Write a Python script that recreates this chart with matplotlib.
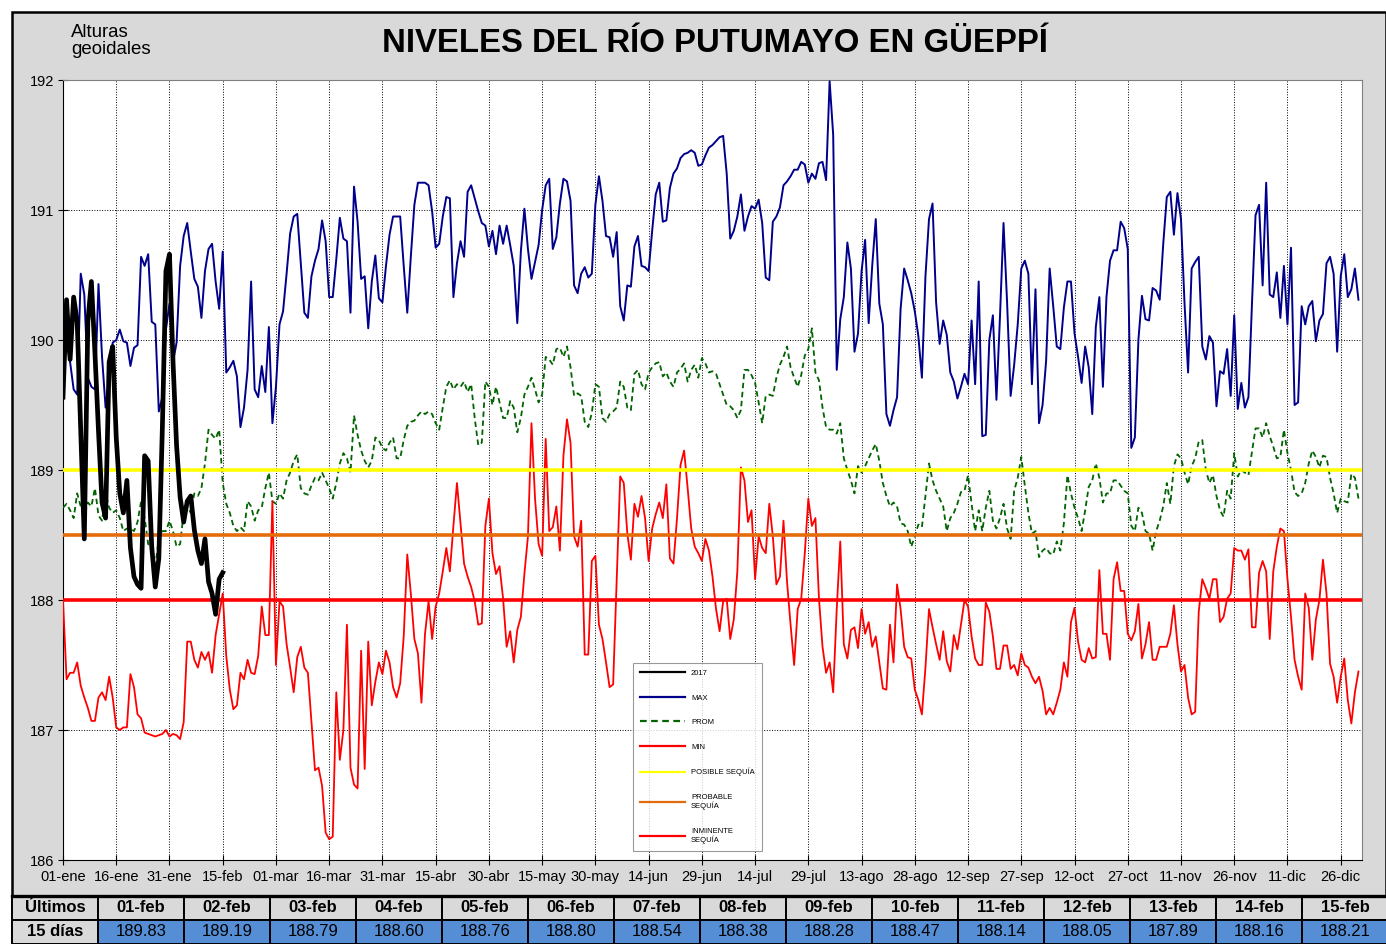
import numpy as np
import matplotlib.pyplot as plt
from matplotlib.patches import Rectangle

plt.rcParams['font.family'] = ['Liberation Sans', 'DejaVu Sans']

# etiquetas del eje x (cada 15 dias, año bisiesto de 366 dias)
x_labels = ['01-ene', '16-ene', '31-ene', '15-feb', '01-mar', '16-mar', '31-mar',
            '15-abr', '30-abr', '15-may', '30-may', '14-jun', '29-jun', '14-jul',
            '29-jul', '13-ago', '28-ago', '12-sep', '27-sep', '12-oct', '27-oct',
            '11-nov', '26-nov', '11-dic', '26-dic']

# ultimos 15 dias (tabla inferior)
ultimos_fechas = ['01-feb', '02-feb', '03-feb', '04-feb', '05-feb', '06-feb', '07-feb', '08-feb',
                  '09-feb', '10-feb', '11-feb', '12-feb', '13-feb', '14-feb', '15-feb']
ultimos_valores = [189.83, 189.19, 188.79, 188.60, 188.76, 188.80, 188.54, 188.38,
                   188.28, 188.47, 188.14, 188.05, 187.89, 188.16, 188.21]

# 2017, enero (el resto son los valores de la tabla)
nivel_2017_enero = [189.56, 190.31, 189.85, 190.33, 190.14, 189.30, 188.47, 190.14, 190.45, 189.90,
                    189.30, 188.75, 188.63, 189.83, 189.95, 189.25, 188.82, 188.67, 188.92, 188.40,
                    188.18, 188.12, 188.09, 189.11, 189.07, 188.41, 188.10, 188.32, 189.33, 190.53,
                    190.66]

max_nivel = [
    189.80, 189.98, 189.83, 189.62, 189.58, 190.51, 190.35, 189.71, 189.64, 189.62,
    190.43, 189.87, 189.48, 189.71, 189.98, 190.00, 190.08, 189.99, 189.98, 189.80,
    189.94, 189.96, 190.64, 190.57, 190.66, 190.14, 190.12, 189.45, 189.56, 190.08,
    190.28, 189.83, 189.98, 190.57, 190.80, 190.90, 190.68, 190.47, 190.41, 190.17,
    190.53, 190.70, 190.74, 190.45, 190.24, 190.68, 189.75, 189.79, 189.84, 189.72,
    189.33, 189.48, 189.77, 190.45, 189.62, 189.56, 189.80, 189.60, 190.10, 189.36,
    189.64, 190.12, 190.22, 190.51, 190.82, 190.95, 190.97, 190.59, 190.21, 190.17,
    190.49, 190.61, 190.70, 190.92, 190.76, 190.33, 190.33, 190.62, 190.94, 190.78,
    190.76, 190.21, 191.18, 190.91, 190.47, 190.49, 190.09, 190.45, 190.65, 190.32,
    190.29, 190.57, 190.81, 190.95, 190.95, 190.95, 190.57, 190.21, 190.64, 191.04,
    191.21, 191.21, 191.21, 191.19, 190.99, 190.71, 190.74, 190.95, 191.10, 191.09,
    190.33, 190.59, 190.76, 190.64, 191.14, 191.19, 191.09, 190.99, 190.90, 190.88,
    190.72, 190.84,
    190.66, 190.88, 190.74, 190.88, 190.73, 190.57, 190.13, 190.68, 191.01, 190.70,
    190.47, 190.60, 190.73, 191.00, 191.19, 191.24, 190.70, 190.79, 191.05, 191.24,
    191.22, 191.07, 190.42, 190.36, 190.51, 190.56, 190.48, 190.51, 191.04, 191.26,
    191.07, 190.80, 190.79, 190.64, 190.83, 190.26, 190.15, 190.42, 190.41, 190.72,
    190.80, 190.57, 190.56, 190.53, 190.84, 191.12, 191.21, 190.91, 190.92, 191.17,
    191.28, 191.32, 191.40, 191.43, 191.44, 191.46, 191.44, 191.34, 191.35, 191.42,
    191.48,
    191.50, 191.53, 191.56, 191.57, 191.28, 190.78, 190.84, 190.95, 191.12, 190.84,
    190.95, 191.03, 191.01, 191.08, 190.90, 190.48, 190.46, 190.91, 190.95, 191.02,
    191.19, 191.22, 191.26, 191.31, 191.31, 191.37, 191.35, 191.21, 191.28, 191.24,
    191.36, 191.37, 191.23, 191.99, 191.58, 189.77, 190.16, 190.33, 190.75, 190.55,
    189.91, 190.05, 190.53, 190.77, 190.13, 190.57, 190.93, 190.28, 190.12, 189.43,
    189.34, 189.46, 189.56, 190.24, 190.55, 190.46, 190.36, 190.22, 190.03, 189.71,
    190.49, 190.93,
    191.05, 190.29, 189.97, 190.15, 190.04, 189.75, 189.68, 189.55, 189.64, 189.74,
    189.66, 190.15, 189.66, 190.45, 189.26, 189.27, 190.00, 190.19, 189.54, 190.18,
    190.90, 190.29, 189.57, 189.81, 190.12, 190.55, 190.61, 190.51, 189.66, 190.39,
    189.36, 189.50, 189.84, 190.55, 190.26, 189.95, 189.93, 190.25, 190.45, 190.45,
    190.05, 189.87, 189.67, 189.95, 189.79, 189.43, 190.10, 190.33, 189.64, 190.33,
    190.61, 190.69, 190.69, 190.91, 190.86, 190.70, 189.17, 189.25, 190.00, 190.34,
    190.16,
    190.15, 190.40, 190.38, 190.31, 190.74, 191.10, 191.14, 190.81, 191.13, 190.93,
    190.28, 189.75, 190.55, 190.60, 190.64, 189.95, 189.85, 190.03, 189.98, 189.49,
    189.76, 189.74, 189.93, 189.57, 190.19, 189.47, 189.67, 189.48, 189.56, 190.28,
    190.96, 191.04, 190.42, 191.21, 190.35, 190.33, 190.52, 190.17, 190.57, 190.12,
    190.71, 189.50, 189.52, 190.26, 190.12, 190.26, 190.30, 189.99, 190.15, 190.20,
    190.59, 190.64, 190.51, 189.91, 190.49, 190.66, 190.33, 190.39, 190.55, 190.31,
]

prom_nivel = [
    188.71, 188.74, 188.69, 188.63, 188.82, 188.72, 188.65, 188.75, 188.72, 188.86,
    188.65, 188.61, 188.82, 188.71, 188.67, 188.69, 188.63, 188.53, 188.55, 188.55,
    188.53, 188.60, 188.76, 188.63, 188.43, 188.40, 188.26, 188.47, 188.53, 188.53,
    188.61, 188.53, 188.41, 188.43, 188.67, 188.72, 188.67, 188.82, 188.80, 188.86,
    189.05, 189.31, 189.27, 189.24, 189.31, 188.90, 188.74, 188.67, 188.57, 188.53,
    188.56, 188.53, 188.76, 188.72, 188.61, 188.69, 188.71, 188.86, 188.98, 188.76,
    188.74, 188.82, 188.78, 188.92, 188.98, 189.07, 189.12, 188.86, 188.82, 188.81,
    188.88, 188.94, 188.92, 188.98, 188.92, 188.86, 188.78, 188.90, 189.05, 189.13,
    189.09, 188.98, 189.42, 189.27, 189.15, 189.07, 189.02, 189.07, 189.25, 189.23,
    189.17, 189.15, 189.21, 189.25, 189.09, 189.09, 189.23, 189.34, 189.37, 189.38,
    189.42, 189.45, 189.43, 189.45, 189.43, 189.36, 189.31, 189.48, 189.64, 189.69,
    189.62, 189.66, 189.64, 189.68, 189.60, 189.66, 189.40, 189.19, 189.21, 189.68,
    189.64, 189.50,
    189.64, 189.52, 189.40, 189.40, 189.53, 189.48, 189.29, 189.40, 189.58, 189.64,
    189.71, 189.62, 189.52, 189.58, 189.87, 189.85, 189.81, 189.93, 189.94, 189.87,
    189.95, 189.79, 189.57, 189.59, 189.57, 189.37, 189.33, 189.44, 189.66, 189.64,
    189.40, 189.37, 189.43, 189.45, 189.48, 189.68, 189.64, 189.48, 189.46, 189.74,
    189.77, 189.66, 189.62, 189.75, 189.79, 189.82, 189.83, 189.72, 189.75, 189.68,
    189.64, 189.75, 189.78, 189.82, 189.68, 189.77, 189.81, 189.71, 189.86, 189.82,
    189.75,
    189.76, 189.74, 189.66, 189.58, 189.50, 189.49, 189.46, 189.40, 189.46, 189.77,
    189.77, 189.73, 189.67, 189.52, 189.36, 189.57, 189.58, 189.57, 189.71, 189.81,
    189.87, 189.95, 189.79, 189.71, 189.64, 189.73, 189.88, 189.93, 190.09, 189.75,
    189.69, 189.48, 189.33, 189.31, 189.31, 189.28, 189.36, 189.09, 189.00, 188.92,
    188.82, 189.03, 188.98, 189.03, 189.09, 189.15, 189.20, 189.07, 188.90, 188.80,
    188.72, 188.75, 188.72, 188.59, 188.58, 188.53, 188.41, 188.49, 188.58, 188.56,
    188.80, 189.05,
    188.92, 188.84, 188.78, 188.72, 188.53, 188.63, 188.67, 188.74, 188.83, 188.84,
    188.96, 188.74, 188.53, 188.69, 188.53, 188.71, 188.84, 188.61, 188.55, 188.63,
    188.74, 188.55, 188.47, 188.84, 188.94, 189.10, 188.88, 188.67, 188.51, 188.53,
    188.33, 188.38, 188.40, 188.36, 188.35, 188.45, 188.38, 188.59, 188.96, 188.82,
    188.71, 188.63, 188.53, 188.69, 188.87, 188.92, 189.05, 188.94, 188.75, 188.82,
    188.82, 188.92, 188.92, 188.88, 188.84, 188.82, 188.57, 188.53, 188.71, 188.67,
    188.53,
    188.51, 188.38, 188.53, 188.61, 188.72, 188.90, 188.74, 189.03, 189.12, 189.09,
    188.98, 188.89, 189.03, 189.09, 189.22, 189.23, 189.00, 188.90, 188.96, 188.80,
    188.69, 188.64, 188.84, 188.78, 189.13, 188.95, 189.00, 188.98, 188.96, 189.14,
    189.32, 189.32, 189.25, 189.36, 189.26, 189.18, 189.09, 189.10, 189.31, 189.13,
    189.00, 188.83, 188.80, 188.82, 188.90, 189.05, 189.15, 189.10, 189.02, 189.11,
    189.10, 188.94, 188.82, 188.67, 188.78, 188.76, 188.75, 188.97, 188.94, 188.78,
]

min_nivel = [
    188.00, 187.39, 187.44, 187.44, 187.52, 187.34, 187.25, 187.17, 187.07, 187.07,
    187.25, 187.29, 187.23, 187.41, 187.25, 187.02, 187.00, 187.02, 187.02, 187.43,
    187.33, 187.12, 187.09, 186.98, 186.97, 186.96, 186.95, 186.96, 186.97, 187.00,
    186.95, 186.97, 186.96, 186.93, 187.06, 187.68, 187.68, 187.54, 187.48, 187.60,
    187.54, 187.60, 187.44, 187.73, 187.89, 188.05, 187.57, 187.31, 187.16, 187.19,
    187.44, 187.39, 187.54, 187.44, 187.43, 187.57, 187.95, 187.73, 187.73, 188.76,
    187.50,
    187.99, 187.95, 187.66, 187.48, 187.29, 187.56, 187.64, 187.48, 187.44, 187.07,
    186.69, 186.71, 186.57, 186.21, 186.16, 186.18, 187.29, 186.77, 187.00, 187.81,
    186.71, 186.58, 186.55, 187.61, 186.70, 187.68, 187.19, 187.37, 187.52, 187.43,
    187.61, 187.52, 187.33, 187.25, 187.36, 187.72, 188.35, 188.05, 187.70, 187.59,
    187.21, 187.74, 187.99, 187.70, 187.95, 188.05, 188.22, 188.40, 188.22, 188.57,
    188.90, 188.59, 188.28, 188.18, 188.10, 187.99, 187.81, 187.82, 188.57, 188.78,
    188.36,
    188.20, 188.26, 188.01, 187.64, 187.76, 187.52, 187.77, 187.87, 188.20, 188.49,
    189.36, 188.78, 188.43, 188.34, 189.24, 188.53, 188.56, 188.72, 188.38, 189.11,
    189.39, 189.21, 188.49, 188.41, 188.61, 187.58, 187.58, 188.30, 188.34, 187.81,
    187.70, 187.52, 187.33, 187.35, 188.16, 188.95, 188.90, 188.51, 188.31, 188.74,
    188.64, 188.80, 188.63, 188.30, 188.55, 188.66, 188.75, 188.63, 188.89, 188.32,
    188.28, 188.63, 189.04, 189.15, 188.86, 188.55, 188.41, 188.36, 188.30, 188.47,
    188.38, 188.18,
    187.93, 187.76, 187.99, 188.01, 187.70, 187.85, 188.22, 189.02, 188.92, 188.60,
    188.69, 188.16, 188.49, 188.40, 188.36, 188.74, 188.49, 188.12, 188.18, 188.61,
    188.14, 187.81, 187.50, 187.93, 188.01, 188.36, 188.78, 188.57, 188.63, 188.01,
    187.64, 187.44, 187.52, 187.29, 187.93, 188.45, 187.66, 187.55, 187.77, 187.79,
    187.63, 187.93, 187.74, 187.83, 187.64, 187.72, 187.52, 187.32, 187.31, 187.81,
    187.52, 188.12, 187.93, 187.64, 187.56, 187.55, 187.31, 187.23, 187.12, 187.48,
    187.93,
    187.79, 187.66, 187.54, 187.76, 187.53, 187.45, 187.73, 187.62, 187.81, 188.00,
    187.95, 187.72, 187.55, 187.50, 187.50, 187.98, 187.91, 187.72, 187.47, 187.47,
    187.65, 187.65, 187.47, 187.50, 187.42, 187.59, 187.50, 187.48, 187.41, 187.36,
    187.41, 187.30, 187.12, 187.17, 187.12, 187.21, 187.31, 187.52, 187.41, 187.83,
    187.94, 187.68, 187.54, 187.52, 187.63, 187.55, 187.56, 188.23, 187.74, 187.74,
    187.54, 188.16, 188.29, 188.07, 188.07, 187.74, 187.69, 187.76, 187.97, 187.55,
    187.66,
    187.83, 187.54, 187.54, 187.64, 187.64, 187.64, 187.74, 187.96, 187.66, 187.45,
    187.50, 187.25, 187.12, 187.14, 187.91, 188.16, 188.09, 188.01, 188.16, 188.16,
    187.83, 187.87, 188.01, 188.05, 188.40, 188.38, 188.38, 188.31, 188.39, 187.79,
    187.79, 188.21, 188.30, 188.22, 187.70, 188.22, 188.41, 188.55, 188.53, 188.16,
    187.87, 187.54, 187.41, 187.31, 188.05, 187.94, 187.54, 187.85, 188.00, 188.31,
    188.05, 187.51, 187.41, 187.21, 187.41, 187.55, 187.23, 187.05, 187.29, 187.45,
]

# umbrales de sequia
umbral_nombres = ['POSIBLE SEQUÍA', 'PROBABLE\nSEQUÍA', 'INMINENTE\nSEQUÍA']
umbral_valores = [189.0, 188.5, 188.0]
umbral_colores = ['#FFFF00', '#E46C0A', '#FF0000']

dias = np.arange(len(max_nivel))
nivel_2017 = nivel_2017_enero + ultimos_valores
dias_2017 = np.arange(len(nivel_2017))

W, H = 1386, 944
fig = plt.figure(figsize=(W / 100, H / 100), dpi=100)
fig.patches.append(Rectangle((12 / W, 0), 1 - 12 / W, 1 - 12 / H, transform=fig.transFigure,
                             facecolor='#D9D9D9', edgecolor='black', linewidth=1.8, zorder=-5))

ax = fig.add_axes([63 / W, 84 / H, 1299 / W, 780 / H])
ax.set_facecolor('white')

ax.plot(dias_2017, nivel_2017, color='black', linewidth=3.4, label='2017', zorder=6)
ax.plot(dias, max_nivel, color='#00008C', linewidth=1.4, label='MAX', zorder=3)
ax.plot(dias, prom_nivel, color='#006400', linewidth=1.3, linestyle=(0, (3, 2)), label='PROM', zorder=3)
ax.plot(dias, min_nivel, color='#FF0000', linewidth=1.3, label='MIN', zorder=3)
for nombre, valor, color in zip(umbral_nombres, umbral_valores, umbral_colores):
    ax.plot([dias[0], dias[-1] + 1], [valor, valor], color=color, linewidth=2.6, label=nombre, zorder=4)

ax.set_xlim(0, 366)
ax.set_ylim(186, 192)
ax.set_xticks(np.arange(len(x_labels)) * 15)
ax.set_xticklabels(x_labels)
ax.set_yticks(np.arange(186, 193))
ax.tick_params(axis='both', labelsize=10.5, length=7, direction='inout', color='black')
ax.tick_params(axis='x', pad=4)
ax.tick_params(axis='y', pad=3)
ax.grid(True, color='black', linestyle=':', linewidth=0.7)
for lado in ['top', 'right']:
    ax.spines[lado].set_color('#808080')
for lado in ['left', 'bottom']:
    ax.spines[lado].set_color('black')

ley = ax.legend(loc='upper left', bbox_to_anchor=(629 / W, 1 - 659 / H), bbox_transform=fig.transFigure,
                fontsize=5.5, handlelength=5.9, labelspacing=2.25, frameon=True, fancybox=False,
                borderpad=0.9, handletextpad=0.8)
ley.get_frame().set_edgecolor('#808080')
ley.get_frame().set_linewidth(0.8)
for linea in ley.get_lines():
    linea.set_linewidth(1.6)
ley.set_zorder(10)

fig.text(715 / W, 1 - 44 / H, 'NIVELES DEL RÍO PUTUMAYO EN GÜEPPÍ', ha='center', va='center',
         fontsize=23.7, fontweight='bold')
fig.text(71 / W, 1 - 41 / H, 'Alturas\ngeoidales', ha='left', va='center', fontsize=13.4, linespacing=0.98)

# tabla de los ultimos 15 dias
tab_ax = fig.add_axes([12 / W, 0, 1376 / W, 48 / H])
tab_ax.axis('off')
celdas = [['Últimos'] + ultimos_fechas, ['15 días'] + ['%.2f' % v for v in ultimos_valores]]
colores = [['#D9D9D9'] * 16, ['#D9D9D9'] + ['#558ED5'] * 15]
tabla = tab_ax.table(cellText=celdas, cellColours=colores, cellLoc='center', bbox=[0, 0, 1, 1])
tabla.auto_set_font_size(False)
for (fila, col), celda in tabla.get_celld().items():
    celda.set_edgecolor('black')
    celda.set_linewidth(1.4)
    celda.get_text().set_fontsize(12)
    if fila == 0 or col == 0:
        celda.get_text().set_fontweight('bold')
tab_ax.plot([0, 1], [1, 1], transform=tab_ax.transAxes, color='black', linewidth=2.4, clip_on=False)

fig.savefig('out.png', dpi=100)
